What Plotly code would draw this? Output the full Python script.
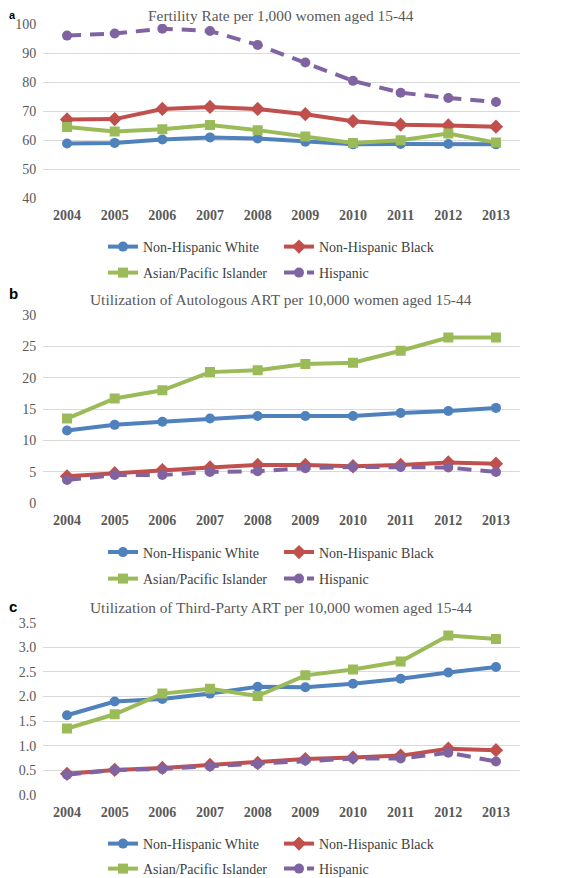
import plotly.graph_objects as go

years = ["2004", "2005", "2006", "2007", "2008", "2009", "2010", "2011", "2012", "2013"]
series_names = ["Non-Hispanic White", "Non-Hispanic Black", "Asian/Pacific Islander", "Hispanic"]

# Panel a: Fertility rate per 1,000 women aged 15-44
fert_white = [58.8, 59.0, 60.2, 60.9, 60.5, 59.4, 58.5, 58.6, 58.6, 58.5]
fert_black = [67.1, 67.2, 70.7, 71.4, 70.7, 68.9, 66.5, 65.3, 65.0, 64.6]
fert_asian = [64.5, 62.9, 63.7, 65.2, 63.4, 61.2, 59.0, 59.9, 62.2, 59.1]
fert_hisp = [96.0, 96.7, 98.4, 97.6, 92.8, 86.7, 80.4, 76.3, 74.5, 73.1]

# Panel b: Autologous ART per 10,000 women aged 15-44
auto_white = [11.6, 12.5, 13.0, 13.5, 13.9, 13.9, 13.9, 14.4, 14.7, 15.2]
auto_black = [4.3, 4.8, 5.3, 5.7, 6.1, 6.1, 5.9, 6.1, 6.5, 6.3]
auto_asian = [13.5, 16.7, 18.0, 20.9, 21.2, 22.2, 22.4, 24.3, 26.4, 26.4]
auto_hisp = [3.7, 4.5, 4.5, 5.0, 5.1, 5.6, 5.8, 5.8, 5.7, 5.0]

# Panel c: Third-party ART per 10,000 women aged 15-44
third_white = [1.62, 1.90, 1.95, 2.06, 2.20, 2.19, 2.26, 2.36, 2.49, 2.60]
third_black = [0.43, 0.51, 0.55, 0.61, 0.65, 0.73, 0.76, 0.80, 0.94, 0.91]
third_asian = [1.35, 1.64, 2.06, 2.16, 2.01, 2.43, 2.55, 2.71, 3.24, 3.17]
third_hisp = [0.41, 0.51, 0.53, 0.58, 0.63, 0.70, 0.74, 0.74, 0.86, 0.68]

titles = ["Fertility Rate per 1,000 women aged 15-44",
          "Utilization of Autologous ART per 10,000 women aged 15-44",
          "Utilization of Third-Party ART per 10,000 women aged 15-44"]
letters = ["a", "b", "c"]

colors = ["#4F81BD", "#C0504D", "#9BBB59", "#8064A2"]
symbols = ["circle", "diamond", "square", "circle"]
dashes = ["solid", "solid", "solid", "14px,9px"]

# the page body adds an 8px offset, so the figure is drawn 8px smaller
OFF = 8
W, H = 567 - OFF, 878 - OFF
SERIF = "Liberation Serif"

def px(X):
    return (X - OFF) / W

def py(Y):
    return 1 - (Y - OFF) / H

panels = [
    dict(data=[fert_white, fert_black, fert_asian, fert_hisp], yr=[40, 100], dt=10, fmt="d",
         top=24, bot=198, title_y=15.5, letter_y=7, letter_size=11, rows=[247, 273]),
    dict(data=[auto_white, auto_black, auto_asian, auto_hisp], yr=[0, 30], dt=5, fmt="d",
         top=315, bot=503.3, title_y=299, letter_y=284, letter_size=15, rows=[552.5, 579]),
    dict(data=[third_white, third_black, third_asian, third_hisp], yr=[0, 3.5], dt=0.5, fmt=".1f",
         top=622.7, bot=795, title_y=607, letter_y=597, letter_size=15, rows=[844, 869]),
]

x_dom = [px(43.2), px(519.8)]

fig = go.Figure()
annotations = []
layout_axes = {}
leg_count = 0
for i, p in enumerate(panels):
    n = "" if i == 0 else str(i + 1)
    xa, ya = "x" + n, "y" + n
    row_legs = []
    for r in range(2):
        leg_count += 1
        lname = "legend" if leg_count == 1 else "legend" + str(leg_count)
        row_legs.append(lname)
        layout_axes[lname] = dict(
            orientation="h", x=px(103), xanchor="left", y=py(p["rows"][r]), yanchor="middle",
            entrywidth=131, font=dict(family=SERIF, size=14, color="#404040"),
            bgcolor="rgba(0,0,0,0)", traceorder="normal",
        )
    for j, name in enumerate(series_names):
        fig.add_trace(go.Scatter(
            x=years, y=p["data"][j], name=name, mode="lines+markers",
            xaxis=xa, yaxis=ya, legend=row_legs[j // 2],
            line=dict(color=colors[j], width=4, dash=dashes[j]),
            marker=dict(symbol=symbols[j], size=10 if symbols[j] != "diamond" else 11, color=colors[j]),
        ))
    layout_axes["xaxis" + n] = dict(
        domain=x_dom, anchor=ya, type="category", range=[-0.5, 9.5],
        showgrid=False, showline=False, zeroline=False, ticks="", automargin=False,
        ticklabelstandoff=7,
        tickfont=dict(family=SERIF, size=14, color="#595959", weight="bold"),
        fixedrange=True,
    )
    layout_axes["yaxis" + n] = dict(
        domain=[py(p["bot"]), py(p["top"])], anchor=xa, range=p["yr"], dtick=p["dt"],
        tick0=0, tickformat=p["fmt"], showgrid=True, gridcolor="#D9D9D9", gridwidth=1,
        zeroline=False, showline=False, ticks="", ticklabelstandoff=6, automargin=False,
        tickfont=dict(family=SERIF, size=14, color="#595959"),
        fixedrange=True,
    )
    annotations.append(dict(
        text=titles[i], xref="paper", yref="paper", x=px(281), y=py(p["title_y"]),
        xanchor="center", yanchor="middle", showarrow=False,
        font=dict(family=SERIF, size=15.4, color="#595959"),
    ))
    annotations.append(dict(
        text="<b>" + letters[i] + "</b>", xref="paper", yref="paper", x=0,
        y=min(1.0, py(p["letter_y"])),
        xanchor="left", yanchor="top", showarrow=False, borderpad=0,
        font=dict(family="Liberation Sans", size=p["letter_size"], color="#000000"),
    ))

fig.update_layout(
    template="none",
    width=W, height=H, margin=dict(l=0, r=0, t=0, b=0, autoexpand=False),
    font=dict(family=SERIF, size=14, color="#595959"),
    paper_bgcolor="white", plot_bgcolor="white",
    annotations=annotations, **layout_axes,
)

fig.write_html("out.html")
